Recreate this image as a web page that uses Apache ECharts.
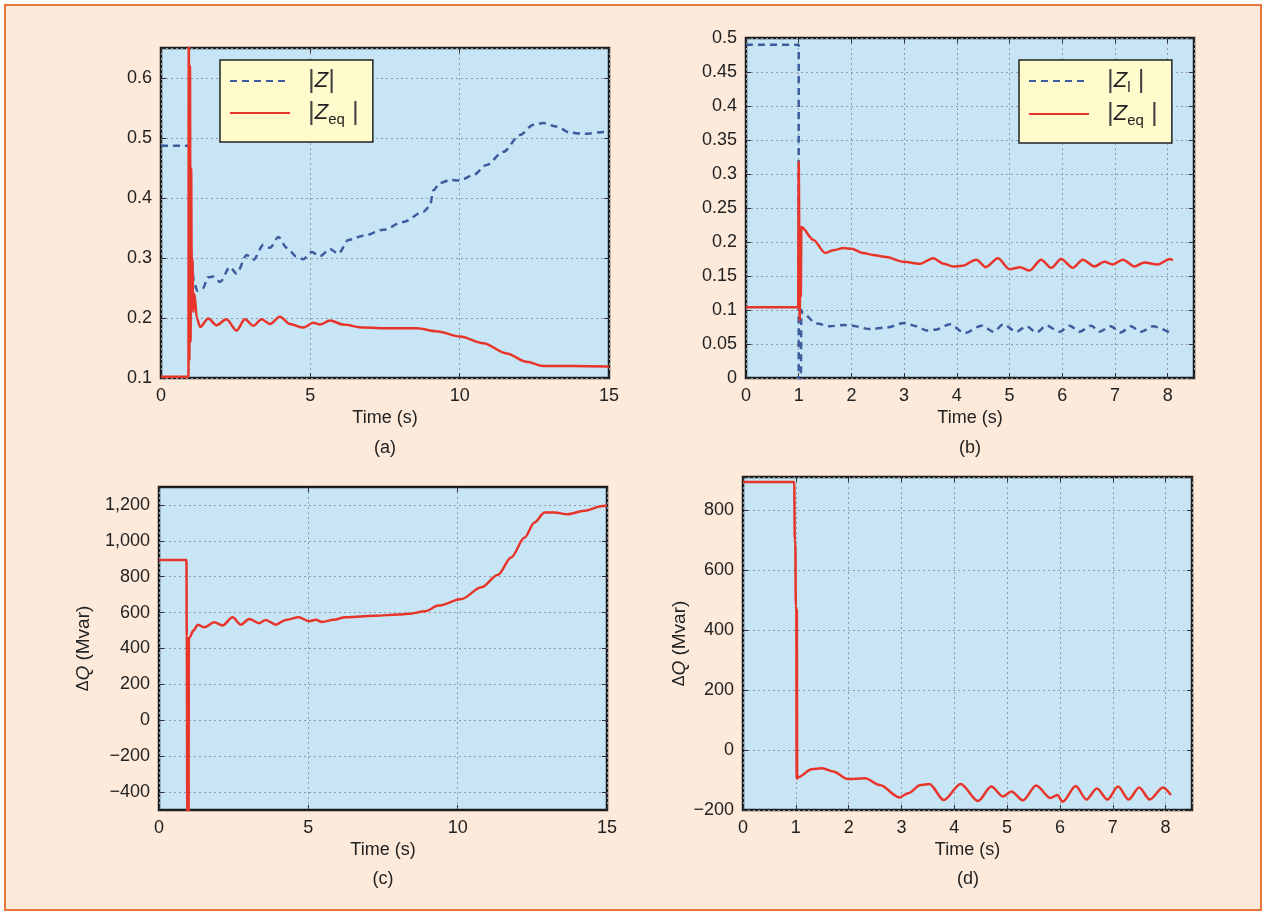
<!DOCTYPE html>
<html>
<head>
<meta charset="utf-8">
<script src="https://cdn.jsdelivr.net/npm/echarts@6/dist/echarts.min.js"></script>
<style>
  html, body { margin: 0; padding: 0; background: #fff; }
  #frame { position: absolute; left: 4px; top: 4px; width: 1254px; height: 903px; border: 2px solid #E8763A; background: #FDEADB; }
  #app { position: absolute; left: 0; top: 0; width: 1266px; height: 915px; }
</style>
</head>
<body>
<div id="frame"></div>
<div id="app"></div>
<script>
// (a) |Z| and |Zeq| over 15 s
const zA = [[0,0.487],[0.94,0.487],[0.97,0.38],[1.02,0.30],[1.1,0.26],[1.22,0.245],[1.41,0.25],[1.57,0.268],[1.75,0.269],[1.98,0.26],[2.31,0.285],[2.53,0.274],[2.87,0.305],[3.09,0.297],[3.43,0.322],[3.65,0.317],[3.93,0.335],[4.21,0.317],[4.54,0.302],[4.76,0.298],[5.04,0.31],[5.32,0.303],[5.66,0.315],[5.94,0.307],[6.27,0.33],[6.77,0.337],[7.44,0.347],[8.11,0.36],[8.78,0.377],[9.0,0.386],[9.12,0.413],[9.34,0.425],[9.67,0.43],[10.0,0.429],[10.45,0.438],[10.9,0.455],[11.46,0.477],[12.02,0.505],[12.47,0.522],[12.8,0.525],[13.25,0.519],[13.69,0.509],[14.14,0.507],[14.87,0.51],[15,0.51]];
const zeqA = [[0,0.102],[0.92,0.102],[0.93,0.70],[0.95,0.13],[0.97,0.62],[0.99,0.16],[1.01,0.45],[1.03,0.22],[1.05,0.30],[1.08,0.21],[1.12,0.24],[1.2,0.2],[1.31,0.185],[1.58,0.199],[1.86,0.188],[2.19,0.198],[2.53,0.179],[2.81,0.198],[3.09,0.187],[3.37,0.198],[3.65,0.19],[3.98,0.202],[4.32,0.19],[4.76,0.184],[5.1,0.192],[5.32,0.189],[5.66,0.196],[6.1,0.189],[6.77,0.184],[7.67,0.183],[8.56,0.183],[9.23,0.178],[10.01,0.169],[10.79,0.158],[11.57,0.141],[12.24,0.127],[12.8,0.12],[13.8,0.12],[15,0.119]];

// (b) |Zl| and |Zeq| over 8 s
const zlB = [[0,0.49],[1.0,0.49],[1.0,-0.02],[1.04,-0.02],[1.05,0.10],[1.08,0.095],[1.34,0.08],[1.59,0.076],[1.84,0.078],[2.0,0.077],[2.35,0.072],[2.66,0.074],[3.01,0.081],[3.24,0.076],[3.42,0.07],[3.6,0.071],[3.87,0.079],[4.15,0.066],[4.47,0.077],[4.7,0.068],[4.88,0.079],[5.13,0.068],[5.32,0.076],[5.51,0.067],[5.7,0.077],[5.95,0.068],[6.14,0.077],[6.33,0.068],[6.55,0.077],[6.7,0.068],[6.92,0.076],[7.11,0.067],[7.3,0.076],[7.49,0.068],[7.72,0.076],[8.04,0.067]];
const zeqB = [[0,0.104],[0.99,0.104],[1.0,0.318],[1.02,0.085],[1.03,0.22],[1.04,0.12],[1.05,0.222],[1.28,0.203],[1.5,0.184],[1.66,0.188],[1.85,0.191],[2.0,0.19],[2.22,0.184],[2.41,0.181],[2.66,0.178],[2.98,0.171],[3.3,0.168],[3.55,0.176],[3.75,0.168],[3.93,0.164],[4.1,0.165],[4.37,0.174],[4.55,0.163],[4.78,0.176],[5.0,0.16],[5.2,0.163],[5.38,0.158],[5.6,0.174],[5.79,0.162],[5.98,0.175],[6.2,0.162],[6.39,0.174],[6.61,0.164],[6.8,0.171],[6.96,0.167],[7.15,0.174],[7.37,0.164],[7.56,0.17],[7.81,0.167],[8.04,0.175],[8.1,0.173]];

// (c) dQ over 15 s
const dqC = [[0,893],[0.92,893],[0.93,470],[0.95,-600],[0.96,460],[0.97,-600],[0.98,455],[0.99,-600],[1.0,450],[1.03,463],[1.15,500],[1.3,533],[1.52,518],[1.85,546],[2.13,528],[2.46,574],[2.74,533],[3.02,565],[3.35,541],[3.57,559],[3.91,533],[4.24,559],[4.68,574],[5.02,552],[5.25,560],[5.46,548],[5.85,560],[6.24,574],[6.75,578],[7.24,583],[8.02,589],[8.35,593],[8.91,607],[9.35,639],[10.13,676],[10.79,741],[11.35,811],[11.79,907],[12.24,1018],[12.57,1102],[12.91,1158],[13.24,1158],[13.68,1148],[14.24,1167],[14.85,1194],[15,1197]];
const ticksC = [-400,-200,0,200,400,600,800,1000,1200];

// (d) dQ over 8 s
const dqD = [[0,893],[0.97,893],[0.98,700],[0.99,690],[1.0,480],[1.01,470],[1.015,-95],[1.02,470],[1.025,-95],[1.05,-90],[1.3,-64],[1.5,-61],[1.71,-72],[1.98,-97],[2.31,-94],[2.59,-117],[2.96,-158],[3.13,-144],[3.36,-117],[3.53,-113],[3.8,-167],[4.12,-113],[4.45,-170],[4.7,-122],[4.92,-155],[5.08,-138],[5.3,-168],[5.55,-118],[5.82,-160],[5.95,-150],[6.05,-172],[6.3,-120],[6.5,-165],[6.7,-128],[6.9,-165],[7.1,-122],[7.3,-165],[7.5,-125],[7.7,-165],[7.95,-125],[8.1,-150]];

const FONT = '"Liberation Sans", Arial, Helvetica, sans-serif';
const INK = '#222';
const RED = '#E8352A';
const BLUE = '#3D5C9E';

const onStep = (v, step, base) => Math.abs((v - base) / step - Math.round((v - base) / step)) < 1e-6;
const numFmt = v => (v < 0 ? '\u2212' : '') + Math.abs(v).toLocaleString('en-US');

const boxes = [
  { left: 161, top: 48, width: 448, height: 330 },
  { left: 746, top: 38, width: 448, height: 340 },
  { left: 159, top: 487, width: 448, height: 323 },
  { left: 743, top: 477, width: 449, height: 333 },
];

const tickStyle = { inside: true, length: 5, lineStyle: { color: '#333', width: 1 } };
const gridLine = { show: true, lineStyle: { color: '#8e9ca8', type: [2, 3], width: 1 } };

function xAxisFor(gi, max, step, mirror) {
  return {
    type: 'value', gridIndex: gi, position: mirror ? 'top' : 'bottom',
    min: 0, max: max, interval: step,
    axisLine: { show: false, onZero: false },
    axisTick: tickStyle,
    axisLabel: mirror ? { show: false } : {
      color: INK, fontSize: 18, fontFamily: FONT, margin: 9,
      formatter: v => onStep(v, step, 0) ? numFmt(v) : ''
    },
    splitLine: mirror ? { show: false } : gridLine,
    name: mirror ? '' : 'Time (s)', nameLocation: 'middle', nameGap: 31,
    nameTextStyle: { color: INK, fontSize: 18, fontFamily: FONT }
  };
}

function yAxisFor(gi, min, max, step, mirror, custom, nameGap) {
  const ax = {
    type: 'value', gridIndex: gi, position: mirror ? 'right' : 'left',
    min: min, max: max, interval: step,
    axisLine: { show: false, onZero: false },
    axisTick: Object.assign({}, tickStyle),
    axisLabel: mirror ? { show: false } : {
      color: INK, fontSize: 18, fontFamily: FONT, margin: 9,
      formatter: v => onStep(v, step, 0) ? numFmt(v) : ''
    },
    splitLine: mirror ? { show: false } : gridLine
  };
  if (custom) {
    ax.axisTick.customValues = custom;
    if (!mirror) ax.axisLabel.customValues = custom;
  }
  if (nameGap && !mirror) {
    ax.name = '{d|\u0394}{q|Q}{n| (Mvar)}';
    ax.nameLocation = 'middle';
    ax.nameRotate = 90;
    ax.nameGap = nameGap;
    ax.nameTextStyle = {
      color: INK, fontSize: 18, fontFamily: FONT,
      rich: {
        d: { fontSize: 16, fontFamily: FONT, color: INK },
        q: { fontSize: 19, fontStyle: 'italic', fontFamily: FONT, color: INK },
        n: { fontSize: 19, fontFamily: FONT, color: INK }
      }
    };
  }
  return ax;
}

function line(gi, name, data, color, dashed) {
  return {
    type: 'line', name: name, xAxisIndex: gi, yAxisIndex: gi, data: data,
    symbol: 'none', smooth: 0.3, smoothMonotone: 'x', clip: true,
    lineStyle: { color: color, width: 2.5, type: dashed ? [7, 5] : 'solid' },
    itemStyle: { color: color },
    emphasis: { disabled: true }
  };
}

const legendNames = {
  '|Z|': '{b||}{z|Z}{b||}',
  '|Zl|': '{b||}{z|Z}{s|l}{b| |}',
  '|Zeq|': '{b||}{z|Z}{s|eq}{b| |}'
};
const legendRich = {
  b: { fontSize: 26, lineHeight: 28, color: '#444', fontFamily: FONT },
  z: { fontSize: 22, lineHeight: 28, fontStyle: 'italic', color: INK, fontFamily: FONT },
  s: { fontSize: 15, lineHeight: 12, verticalAlign: 'bottom', color: INK, fontFamily: FONT }
};
function legendAt(left, top, names) {
  return {
    data: names, left: left, top: top, orient: 'vertical',
    backgroundColor: '#FFFBCC', borderColor: '#222', borderWidth: 1.5, borderRadius: 0,
    padding: [8, 14, 15, 9], itemWidth: 60, itemHeight: 14, itemGap: 6,
    selectedMode: false,
    itemStyle: { opacity: 0, borderWidth: 0 },
    formatter: n => legendNames[n],
    textStyle: { rich: legendRich, padding: [0, 0, 0, 13] }
  };
}

const subLabel = (x, y, t) => ({
  type: 'text', x: x, y: y,
  style: { text: t, fill: INK, font: '18px ' + FONT, align: 'center', verticalAlign: 'middle' }
});

const chart = echarts.init(document.getElementById('app'));
chart.setOption({
  animation: false,
  grid: boxes.map(b => Object.assign({
    show: true, backgroundColor: '#C8E5F6', borderColor: '#1c1c1c', borderWidth: 2.5,
    containLabel: false, outerBoundsMode: 'none'
  }, b)),
  xAxis: [
    xAxisFor(0, 15, 5), xAxisFor(1, 8.5, 1), xAxisFor(2, 15, 5), xAxisFor(3, 8.5, 1),
    xAxisFor(0, 15, 5, true), xAxisFor(1, 8.5, 1, true), xAxisFor(2, 15, 5, true), xAxisFor(3, 8.5, 1, true)
  ],
  yAxis: [
    yAxisFor(0, 0.1, 0.65, 0.1), yAxisFor(1, 0, 0.5, 0.05),
    yAxisFor(2, -500, 1300, 200, false, ticksC, 66), yAxisFor(3, -200, 910, 200, false, null, 50),
    yAxisFor(0, 0.1, 0.65, 0.1, true), yAxisFor(1, 0, 0.5, 0.05, true),
    yAxisFor(2, -500, 1300, 200, true, ticksC), yAxisFor(3, -200, 910, 200, true)
  ],
  legend: [
    legendAt(220, 60, ['|Z|', '|Zeq|']),
    legendAt(1019, 60, ['|Zl|', '|Zeq|'])
  ],
  series: [
    line(0, '|Z|', zA, BLUE, true),
    line(0, '|Zeq|', zeqA, RED, false),
    line(1, '|Zl|', zlB, BLUE, true),
    line(1, '|Zeq|', zeqB, RED, false),
    line(2, 'dQc', dqC, RED, false),
    line(3, 'dQd', dqD, RED, false)
  ],
  graphic: [
    subLabel(385, 448, '(a)'),
    subLabel(970, 448, '(b)'),
    subLabel(383, 879, '(c)'),
    subLabel(968, 879, '(d)')
  ]
});
</script>
</body>
</html>
